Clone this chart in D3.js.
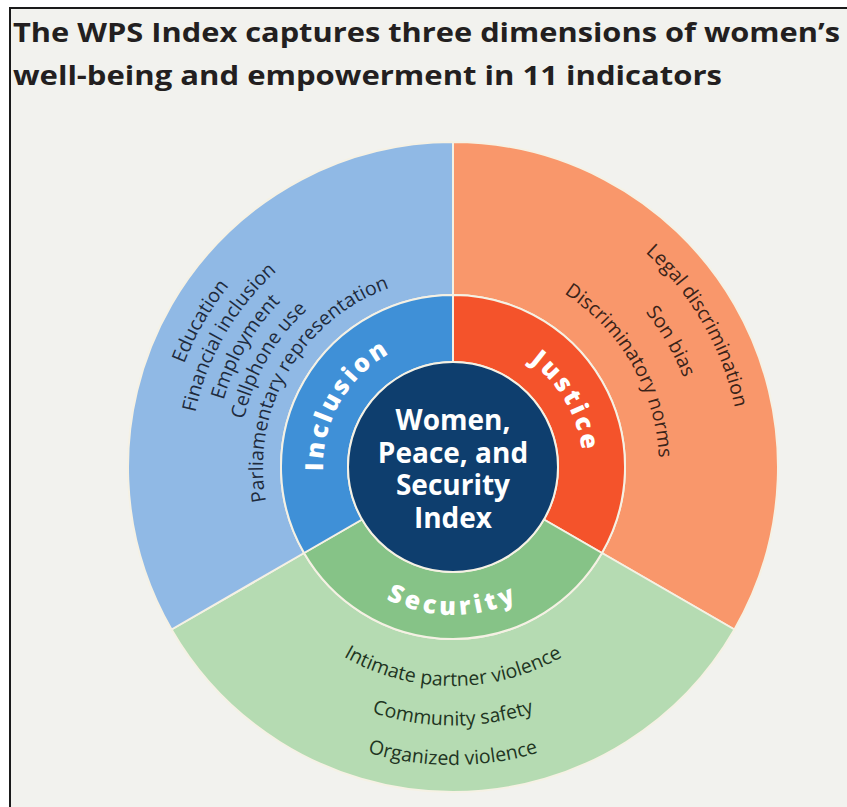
<!DOCTYPE html>
<html><head><meta charset="utf-8">
<script src="https://cdn.jsdelivr.net/npm/d3@7"></script>
<style>
html,body{margin:0;padding:0;background:#ffffff;}
svg{display:block;}
</style></head><body>
<svg id="chart" width="847" height="807"></svg>
<script>
// ---------- data ----------
const titleLines = ["The WPS Index captures three dimensions of women\u2019s", "well-being and empowerment in 11 indicators"];
const centerLabel = ["Women,", "Peace, and", "Security", "Index"];
const dimensions = ["Justice", "Security", "Inclusion"];
const dimensionWeights = [1, 1, 1];
const justiceIndicators = ["Legal discrimination", "Son bias", "Discriminatory norms"];
const securityIndicators = ["Intimate partner violence", "Community safety", "Organized violence"];
const inclusionIndicators = ["Education", "Financial inclusion", "Employment", "Cellphone use", "Parliamentary representation"];
const indicatorsByDimension = [justiceIndicators, securityIndicators, inclusionIndicators];

// ---------- styles ----------
const innerColors = ["#f4532b", "#86c387", "#3f90d7"];
const outerColors = ["#f9976b", "#b5dbb2", "#90b9e5"];
const labelColors = ["#3a2319", "#1f3522", "#1e2b3d"];
const dimLetterSpacing = [3, 4, 3];
const bg = "#f2f2ee";
const fontFam = "'Open Sans', Lato, sans-serif";

const W = 847, H = 807;
const cx = 453, cy = 467;
const rCenter = 105, rMid = 172, rOuter = 325;

const svg = d3.select("#chart");
svg.append("rect").attr("width", W).attr("height", H).attr("fill", "#ffffff");
svg.append("rect").attr("x", 10).attr("y", 8).attr("width", W - 10).attr("height", H - 8).attr("fill", bg);
svg.append("line").attr("x1", 10).attr("x2", W).attr("y1", 8).attr("y2", 8).attr("stroke", "#1a1a1a").attr("stroke-width", 2);
svg.append("line").attr("x1", 10).attr("x2", 10).attr("y1", 7).attr("y2", H).attr("stroke", "#1a1a1a").attr("stroke-width", 2);

// title
const titleTargets = [827, 709];
titleLines.forEach((t, i) => {
  svg.append("text")
    .attr("x", 13).attr("y", 42 + i * 43)
    .attr("font-family", fontFam).attr("font-weight", 700).attr("font-size", 27.5)
    .attr("fill", "#231f20")
    .attr("textLength", titleTargets[i]).attr("lengthAdjust", "spacingAndGlyphs")
    .text(t);
});

const g = svg.append("g").attr("transform", `translate(${cx},${cy})`);
const pie = d3.pie().sort(null).value(d => d).startAngle(0).endAngle(2 * Math.PI);
const slices = pie(dimensionWeights);

const outerArc = d3.arc().innerRadius(rMid).outerRadius(rOuter);
const innerArc = d3.arc().innerRadius(rCenter).outerRadius(rMid);
const sep = "#f5f1e4";

g.selectAll("path.outer").data(slices).join("path").attr("class", "outer")
  .attr("d", outerArc).attr("fill", (d, i) => outerColors[i])
  .attr("stroke", sep).attr("stroke-width", 2);
g.selectAll("path.inner").data(slices).join("path").attr("class", "inner")
  .attr("d", innerArc).attr("fill", (d, i) => innerColors[i])
  .attr("stroke", sep).attr("stroke-width", 2);
g.append("circle").attr("r", rCenter).attr("fill", "#0e3e6e").attr("stroke", sep).attr("stroke-width", 2);

// text on arc helper (angles clockwise from top, radians)
const defs = svg.append("defs");
let pid = 0;
function arcText(r, a, clockwise, text, attrs) {
  const span = 85 * Math.PI / 180;
  const p = d3.path();
  const a0 = clockwise ? a - span : a + span;
  const a1 = clockwise ? a + span : a - span;
  p.arc(0, 0, r, a0 - Math.PI / 2, a1 - Math.PI / 2, !clockwise);
  const id = "tp" + (pid++);
  defs.append("path").attr("id", id).attr("d", p.toString()).attr("transform", `translate(${cx},${cy})`);
  const t = svg.append("text").attr("font-family", fontFam);
  Object.entries(attrs).forEach(([k, v]) => t.attr(k, v));
  t.append("textPath").attr("href", "#" + id).attr("startOffset", "50%").attr("text-anchor", "middle").text(text);
}

// indicator radii (baseline) scales per dimension
const radiusScales = [
  d3.scaleLinear().domain([0, justiceIndicators.length - 1]).range([288, 206]),
  d3.scaleLinear().domain([0, securityIndicators.length - 1]).range([219, 298]),
  d3.scaleLinear().domain([0, inclusionIndicators.length - 1]).range([288, 190])
];

slices.forEach((s, i) => {
  const mid = (s.startAngle + s.endAngle) / 2;
  const bottom = Math.cos(mid) < -0.5; // bottom segment -> text upright, counterclockwise
  indicatorsByDimension[i].forEach((name, j) => {
    arcText(radiusScales[i](j), mid, !bottom, name, {
      "font-size": 19.5, "fill": labelColors[i], "font-weight": 400
    });
  });
  arcText(bottom ? 148 : 130, mid, !bottom, dimensions[i], {
    "font-size": 25, "fill": "#ffffff", "font-weight": 800, "letter-spacing": dimLetterSpacing[i]
  });
});

// center label
centerLabel.forEach((t, i) => {
  svg.append("text").attr("x", cx).attr("y", 430 + i * 32.5)
    .attr("text-anchor", "middle").attr("font-family", fontFam)
    .attr("font-weight", 700).attr("font-size", 28).attr("fill", "#ffffff")
    .text(t);
});
</script>
</body></html>
